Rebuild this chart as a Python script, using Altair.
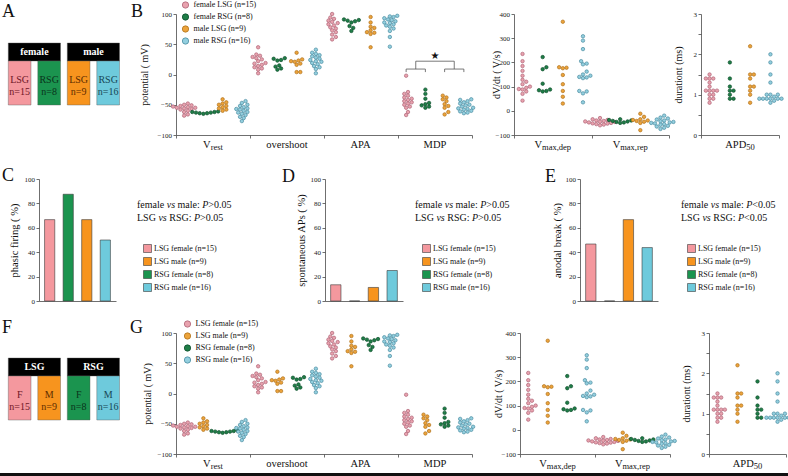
import altair as alt
import pandas as pd

FONT = "Liberation Serif"
W, H = 788, 476

# ---------------- data ----------------
NAMES_B = {"fL": "female LSG (n=15)", "fR": "female RSG (n=8)", "mL": "male LSG (n=9)", "mR": "male RSG (n=16)"}
NAMES_G = {"fL": "LSG female (n=15)", "fR": "RSG female (n=8)", "mL": "LSG male (n=9)", "mR": "RSG male (n=16)"}
ORDER_B = ["fL", "fR", "mL", "mR"]
ORDER_G = ["fL", "mL", "fR", "mR"]

vrest = {
    "fL": [-48, -50, -51, -52, -53, -54, -55, -55, -56, -57, -58, -60, -62, -66, -68],
    "fR": [-61, -62, -62, -63, -63, -64, -64, -65],
    "mL": [-41, -46, -48, -50, -52, -54, -56, -58, -60],
    "mR": [-44, -47, -50, -52, -54, -56, -57, -58, -60, -62, -63, -65, -67, -70, -72, -77],
}
overshoot = {
    "fL": [45, 33, 31, 29, 27, 25, 22, 19, 18, 16, 14, 12, 10, 8, 2],
    "fR": [27, 26, 24, 23, 15, 13, 10, 8],
    "mL": [36, 25, 23, 22, 21, 18, 16, 4, 4],
    "mR": [41, 36, 34, 32, 30, 28, 26, 24, 22, 21, 19, 17, 14, 12, 9, 2],
}
apa = {
    "fL": [100, 94, 92, 89, 87, 85, 83, 81, 78, 76, 73, 70, 66, 62, 58],
    "fR": [91, 90, 89, 88, 86, 80, 77, 72],
    "mL": [95, 86, 79, 77, 73, 70, 69, 67, 45],
    "mR": [97, 96, 95, 93, 91, 90, 88, 86, 85, 83, 81, 79, 76, 72, 62, 46],
}
mdp = {
    "fL": [-2, -29, -32, -35, -38, -40, -42, -44, -46, -48, -50, -53, -55, -62, -67],
    "fR": [-25, -32, -40, -47, -49, -51, -53, -55],
    "mL": [-35, -38, -41, -44, -49, -52, -55, -62, -66],
    "mR": [-41, -42, -44, -46, -48, -50, -51, -53, -55, -56, -57, -58, -60, -61, -63, -64],
}
vmax_dep = {
    "fL": [235, 205, 185, 165, 145, 128, 120, 110, 100, 95, 90, 88, 80, 70, 42],
    "fR": [222, 180, 172, 112, 88, 85, 82, 80],
    "mL": [368, 180, 178, 176, 148, 110, 82, 58, 30],
    "mR": [308, 290, 255, 205, 195, 192, 162, 150, 145, 140, 138, 135, 82, 80, 72, 35],
}
vmax_rep = {
    "fL": [-30, -35, -38, -40, -42, -44, -45, -46, -48, -50, -52, -53, -55, -57, -60],
    "fR": [-35, -38, -40, -42, -44, -46, -48, -50],
    "mL": [-12, -25, -35, -38, -40, -42, -45, -50, -80],
    "mR": [-20, -28, -32, -36, -40, -43, -46, -48, -50, -52, -55, -58, -62, -65, -70, -75],
}
apd50 = {
    "fL": [1.5, 1.4, 1.4, 1.4, 1.3, 1.2, 1.1, 1.1, 1.1, 1.1, 1.0, 1.0, 0.9, 0.9, 0.8],
    "fR": [1.8, 1.4, 1.2, 1.1, 1.1, 1.0, 0.9, 0.9],
    "mL": [2.2, 1.5, 1.5, 1.4, 1.2, 1.2, 1.1, 1.0, 0.8],
    "mR": [2.0, 1.8, 1.5, 1.3, 1.0, 1.0, 1.0, 0.95, 0.9, 0.9, 0.9, 0.9, 0.9, 0.9, 0.85, 0.8],
}
phasic_firing = {"fL": 66.7, "fR": 87.5, "mL": 66.7, "mR": 50.0}
spontaneous_aps = {"fL": 13.3, "fR": 0.0, "mL": 11.1, "mR": 25.0}
anodal_break = {"fL": 46.7, "fR": 0.0, "mL": 66.7, "mR": 43.8}

# ---------------- styles ----------------
PT_FILL = {"fL": "#E8A2AE", "fR": "#1F7E47", "mL": "#ECA33B", "mR": "#93CFDF"}
PT_EDGE = {"fL": "#AF6477", "fR": "#0E4F2D", "mL": "#B0731C", "mR": "#4A8DA1"}
SOLID = {"fL": "#F4989E", "fR": "#1B944F", "mL": "#F7941E", "mR": "#6ECADC"}
BOX_TEXT = {"fL": "#6E1626", "fR": "#0A331B", "mL": "#5C2C00", "mR": "#174654"}
AXC = dict(domainColor="#4a4a4a", tickColor="#4a4a4a", domainWidth=0.8, tickWidth=0.8,
           labelFont=FONT, labelFontSize=7, labelColor="#222", labelPadding=1.5,
           titleFont=FONT, titleFontWeight="normal", titleColor="#111", grid=False)
ONE = pd.DataFrame({"a": [0]})
GPOS = [0.11, 0.37, 0.63, 0.89]
DOT = 3.7

TW = {' ': 250, '(': 333, ')': 333, '=': 564, '>': 564, '<': 564, '.': 250, ',': 250, ':': 278,
      '%': 833, '/': 278, 'a': 444, 'b': 500, 'c': 444, 'd': 500, 'e': 444, 'f': 333, 'g': 500,
      'h': 500, 'i': 278, 'k': 500, 'l': 278, 'm': 778, 'n': 500, 'o': 500, 'p': 500, 'r': 333,
      's': 389, 't': 278, 'u': 500, 'v': 500, 'x': 500, 'A': 722, 'D': 722, 'F': 556, 'G': 722,
      'L': 611, 'M': 889, 'P': 556, 'R': 667, 'S': 556, 'V': 722}
ITW = {'v': 444, 's': 389, 'P': 611}


def tw(s, size, italic=False):
    tot = 0
    for ch in s:
        if ch.isdigit():
            tot += 500
        elif italic and ch in ITW:
            tot += ITW[ch]
        else:
            tot += TW.get(ch, 500)
    return tot * size / 1000.0


def vtext(text, x, y, size, color="#111", align="left", baseline="alphabetic", **kw):
    return alt.Chart(ONE).mark_text(text=text, font=FONT, fontSize=size, color=color,
                                    align=align, baseline=baseline, **kw).encode(
        x=alt.value(x), y=alt.value(y))


def rich_line(segs, x0, y, size):
    out = []
    x = x0
    for t, it in segs:
        lead = len(t) - len(t.lstrip(' '))
        if t.strip():
            out.append(vtext(t.strip(), x + tw(' ' * lead, size), y, size,
                             fontStyle="italic" if it else "normal"))
        x += tw(t, size, it)
    return out


def swarm_offsets(vals, ppu):
    order = sorted(range(len(vals)), key=lambda i: vals[i])
    steps = [0.0]
    for k in range(1, 16):
        steps += [0.5 * k, -0.5 * k]
    placed, off = [], [0.0] * len(vals)
    for i in order:
        y = vals[i] * ppu
        x = 0.0
        for s in steps:
            x = s * DOT
            if all((x - px) ** 2 + (y - py) ** 2 >= (0.95 * DOT) ** 2 for px, py in placed):
                break
        placed.append((x, y))
        off[i] = x
    return off


def scatter_panel(measures, cats, order, names, xr, yr, ydom, yvals, ytitle, title_cx,
                  legend_xy=None, half=False, bracket=False):
    nb = len(measures)
    ppu_x = (xr[1] - xr[0]) / nb
    ppu_y = (yr[0] - yr[1]) / (ydom[1] - ydom[0])
    rows = []
    for mi, data in enumerate(measures):
        for gi, key in enumerate(order):
            vals = data[key]
            offs = swarm_offsets(vals, ppu_y)
            for v, o in zip(vals, offs):
                rows.append({"x": mi + GPOS[gi] + o / ppu_x, "y": v, "g": names[key]})
    df = pd.DataFrame(rows)

    def xs():
        return alt.Scale(domain=[0, nb], range=list(xr), nice=False, zero=False)

    def ys():
        return alt.Scale(domain=list(ydom), range=[yr[0], yr[1]], nice=False, zero=False)

    dom = [names[k] for k in order]
    leg = None
    if legend_xy:
        leg = alt.Legend(orient="none", legendX=legend_xy[0], legendY=legend_xy[1], title=None,
                         symbolType="circle", symbolSize=40, symbolStrokeWidth=0.8,
                         labelFont=FONT, labelFontSize=8, labelColor="#111", labelOffset=4,
                         rowPadding=2, padding=0)
    yaxis = dict(orient="left", offset=-xr[0], values=yvals, title=ytitle,
                 titleX=title_cx - xr[0], titleY=(yr[0] + yr[1]) / 2, titleAngle=-90,
                 titleAlign="center", titleBaseline="middle", titleFontSize=10, tickSize=3, **AXC)
    if half:
        yaxis["labelExpr"] = "datum.value % 1 == 0 ? '' + datum.value : ''"
    layers = []
    layers.append(alt.Chart(df).mark_point(filled=True, shape="circle", size=12, strokeWidth=0.7,
                                           opacity=1).encode(
        x=alt.X("x:Q", scale=xs(), axis=alt.Axis(orient="bottom", offset=yr[0] - H,
                                                values=list(range(nb + 1)), labels=False,
                                                title=None, tickSize=3, **AXC)),
        y=alt.Y("y:Q", scale=ys(), axis=alt.Axis(**yaxis)),
        fill=alt.Fill("g:N", scale=alt.Scale(domain=dom, range=[PT_FILL[k] for k in order]), legend=leg),
        stroke=alt.Stroke("g:N", scale=alt.Scale(domain=dom, range=[PT_EDGE[k] for k in order]), legend=leg),
    ))
    # category labels (main text + subscript)
    mrows, srows = [], []
    for mi, (main, sub) in enumerate(cats):
        wm = tw(main, 10.5)
        ws = tw(sub, 8.5)
        left = -(wm + ws) / 2
        mrows.append({"x": mi + 0.5 + left / ppu_x, "y": ydom[0], "t": main})
        if sub:
            srows.append({"x": mi + 0.5 + (left + wm) / ppu_x, "y": ydom[0], "t": sub})
    layers.append(alt.Chart(pd.DataFrame(mrows)).mark_text(
        align="left", baseline="alphabetic", dy=13, font=FONT, fontSize=10.5, color="#111").encode(
        x=alt.X("x:Q", scale=xs(), axis=None), y=alt.Y("y:Q", scale=ys(), axis=None), text="t:N"))
    if srows:
        layers.append(alt.Chart(pd.DataFrame(srows)).mark_text(
            align="left", baseline="alphabetic", dy=15, font=FONT, fontSize=8.5, color="#111").encode(
            x=alt.X("x:Q", scale=xs(), axis=None), y=alt.Y("y:Q", scale=ys(), axis=None), text="t:N"))
    if bracket:
        c = [3 + g for g in GPOS]
        m1, m2 = (c[0] + c[1]) / 2, (c[2] + c[3]) / 2
        foot, low, top, star = 4, 9, 22, 31
        seg = [(c[0], c[0], foot, low), (c[1], c[1], foot, low), (c[2], c[2], foot, low),
               (c[3], c[3], foot, low), (c[0], c[1], low, low), (c[2], c[3], low, low),
               (m1, m1, low, top), (m2, m2, low, top), (m1, m2, top, top)]
        bdf = pd.DataFrame(seg, columns=["x1", "x2", "y1", "y2"])
        layers.append(alt.Chart(bdf).mark_rule(color="#555", strokeWidth=0.8).encode(
            x=alt.X("x1:Q", scale=xs(), axis=None), x2="x2:Q",
            y=alt.Y("y1:Q", scale=ys(), axis=None), y2="y2:Q"))
        sdf = pd.DataFrame({"x": [(m1 + m2) / 2], "y": [star]})
        layers.append(alt.Chart(sdf).mark_text(text="★", font="DejaVu Sans", fontSize=10,
                                               color="#111", baseline="middle").encode(
            x=alt.X("x:Q", scale=xs(), axis=None), y=alt.Y("y:Q", scale=ys(), axis=None)))
    return layers


def bar_panel(values, xr, yr, ytitle, title_cx, legend_xy):
    df = pd.DataFrame({"k": ORDER_B, "name": [NAMES_G[k] for k in ORDER_B],
                       "v": [values[k] for k in ORDER_B]})
    ldom = [NAMES_G[k] for k in ORDER_G]
    return [alt.Chart(df).mark_bar(stroke="#3a3a3a", strokeWidth=0.6).encode(
        x=alt.X("k:N", sort=ORDER_B,
                scale=alt.Scale(domain=ORDER_B, range=list(xr), paddingInner=0.45, paddingOuter=0.3),
                axis=alt.Axis(orient="bottom", offset=yr[0] - H, ticks=False, labels=False,
                              title=None, **AXC)),
        y=alt.Y("v:Q", scale=alt.Scale(domain=[0, 100], range=[yr[0], yr[1]], nice=False),
                axis=alt.Axis(orient="left", offset=-xr[0], values=[0, 20, 40, 60, 80, 100],
                              title=ytitle, titleX=title_cx - xr[0], titleY=(yr[0] + yr[1]) / 2,
                              titleAngle=-90, titleAlign="center", titleBaseline="middle",
                              titleFontSize=10.5, tickSize=3, **AXC)),
        fill=alt.Fill("name:N", scale=alt.Scale(domain=ldom, range=[SOLID[k] for k in ORDER_G]),
                      legend=alt.Legend(orient="none", legendX=legend_xy[0], legendY=legend_xy[1],
                                        title=None, symbolType="square", symbolSize=64,
                                        symbolStrokeColor="#3a3a3a", symbolStrokeWidth=0.6,
                                        labelFont=FONT, labelFontSize=8, labelColor="#111",
                                        labelOffset=2, rowPadding=2, padding=0)),
    )]


def box_panel(headers, boxes, y_top, y_bottom):
    def xs():
        return alt.Scale(domain=[0, 4], range=[8.3, 126.3], nice=False, zero=False)

    def ys():
        return alt.Scale(domain=[0, 3.45], range=[y_top, y_bottom], nice=False, zero=False)

    rects = []
    for j in range(2):
        rects.append({"x1": 2 * j, "x2": 2 * j + 1.77, "y1": 0, "y2": 1, "c": "#000000"})
    for i, (key, _, _) in enumerate(boxes):
        rects.append({"x1": i, "x2": i + 0.77, "y1": 1, "y2": 3.45, "c": SOLID[key]})
    texts = []
    for j, h in enumerate(headers):
        texts.append({"x": 2 * j + 0.885, "y": 0.5, "t": h, "tc": "#ffffff", "w": "bold"})
    for i, (key, l1, l2) in enumerate(boxes):
        texts.append({"x": i + 0.385, "y": 2.06, "t": l1, "tc": BOX_TEXT[key], "w": "normal"})
        texts.append({"x": i + 0.385, "y": 2.7, "t": l2, "tc": BOX_TEXT[key], "w": "normal"})
    tdf = pd.DataFrame(texts)
    out = [alt.Chart(pd.DataFrame(rects)).mark_rect(stroke="#555", strokeWidth=0.4).encode(
        x=alt.X("x1:Q", scale=xs(), axis=None), x2="x2:Q",
        y=alt.Y("y1:Q", scale=ys(), axis=None), y2="y2:Q",
        fill=alt.Fill("c:N", scale=None))]
    for wt in ["bold", "normal"]:
        out.append(alt.Chart(tdf[tdf.w == wt]).mark_text(
            font=FONT, fontSize=10, fontWeight=wt, baseline="middle", align="center").encode(
            x=alt.X("x:Q", scale=xs(), axis=None), y=alt.Y("y:Q", scale=ys(), axis=None),
            text="t:N", color=alt.Color("tc:N", scale=None)))
    return out


layers = []
# Panel A
layers += box_panel(["female", "male"],
                    [("fL", "LSG", "n=15"), ("fR", "RSG", "n=8"), ("mL", "LSG", "n=9"), ("mR", "RSG", "n=16")],
                    43, 105)
# Panel F
layers += box_panel(["LSG", "RSG"],
                    [("fL", "F", "n=15"), ("mL", "M", "n=9"), ("fR", "F", "n=8"), ("mR", "M", "n=16")],
                    358, 420)

left_cats = [("V", "rest"), ("overshoot", ""), ("APA", ""), ("MDP", "")]
mid_cats = [("V", "max,dep"), ("V", "max,rep")]
right_cats = [("APD", "50")]

# Panel B
layers += scatter_panel([vrest, overshoot, apa, mdp], left_cats, ORDER_B, NAMES_B, (176, 472), (135, 14),
                        (-100, 100), [-100, -50, 0, 50, 100], "potential ( mV)", 144,
                        legend_xy=(181.5, 1), bracket=True)
layers += scatter_panel([vmax_dep, vmax_rep], mid_cats, ORDER_B, NAMES_B, (514, 669), (135, 14),
                        (-100, 400), [-100, 0, 100, 200, 300, 400], "dV/dt ( V/s)", 496)
layers += scatter_panel([apd50], right_cats, ORDER_B, NAMES_B, (701, 779), (135, 14),
                        (0, 3), [0, 0.5, 1, 1.5, 2, 2.5, 3], "durationt (ms)", 678, half=True)
# Panel G
layers += scatter_panel([vrest, overshoot, apa, mdp], left_cats, ORDER_G, NAMES_G, (176, 472), (454, 333),
                        (-100, 100), [-100, -50, 0, 50, 100], "potential ( mV)", 147,
                        legend_xy=(183.5, 320))
layers += scatter_panel([vmax_dep, vmax_rep], mid_cats, ORDER_G, NAMES_G, (520, 670), (454, 333),
                        (-100, 400), [-100, 0, 100, 200, 300, 400], "dV/dt ( V/s)", 498)
layers += scatter_panel([apd50], right_cats, ORDER_G, NAMES_G, (709, 786), (454, 333),
                        (0, 3), [0, 0.5, 1, 1.5, 2, 2.5, 3], "durationt (ms)", 686, half=True)

# Panels C, D, E
layers += bar_panel(phasic_firing, (39, 116), (301, 179), "phasic firing ( %)", 14, (143, 244))
layers += bar_panel(spontaneous_aps, (325, 403), (301, 179), "spontaneous APs ( %)", 301, (422, 244))
layers += bar_panel(anodal_break, (580, 658), (301, 179), "anodal break ( %)", 557, (687, 244))

L1 = [("female ", False), ("vs", True), (" male: ", False), ("P", True), (">0.05", False)]
L2 = [("LSG ", False), ("vs", True), (" RSG: ", False), ("P", True), (">0.05", False)]
L1e = [("female ", False), ("vs", True), (" male: ", False), ("P", True), ("<0.05", False)]
L2e = [("LSG ", False), ("vs", True), (" RSG: ", False), ("P", True), ("<0.05", False)]
for x0, a, b in [(137, L1, L2), (415, L1, L2), (681, L1e, L2e)]:
    layers += rich_line(a, x0, 208, 10)
    layers += rich_line(b, x0, 221, 10)

# panel letters
for letter, x, y in [("A", 2, 17), ("B", 131, 17), ("C", 2, 181), ("D", 282, 182),
                     ("E", 545, 182), ("F", 2, 333), ("G", 130, 333)]:
    layers.append(vtext(letter, x, y, 18))

# bottom border line
layers.append(alt.Chart(ONE).mark_rule(color="#111", strokeWidth=3).encode(
    x=alt.value(0), x2=alt.value(W), y=alt.value(474.5)))

chart = alt.layer(*layers).resolve_scale(
    x="independent", y="independent", fill="independent", stroke="independent", color="independent"
).resolve_axis(x="independent", y="independent").resolve_legend(
    fill="independent", stroke="independent", color="independent"
).properties(width=W, height=H, padding=0, autosize=alt.AutoSizeParams(type="none")
).configure(font=FONT).configure_view(stroke=None)

chart.save("out.html", embed_options={"renderer": "svg", "actions": False})
